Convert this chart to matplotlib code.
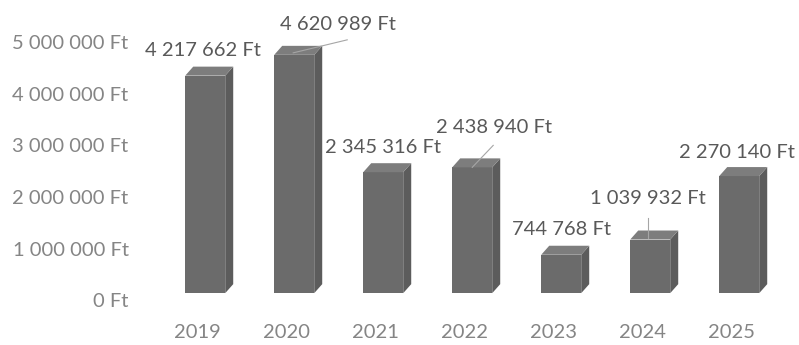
import matplotlib.pyplot as plt
from matplotlib.patches import Polygon

years = ['2019', '2020', '2021', '2022', '2023', '2024', '2025']
values = [4217662, 4620989, 2345316, 2438940, 744768, 1039932, 2270140]
ytick_values = [0, 1000000, 2000000, 3000000, 4000000, 5000000]

# label offsets (pixels) from the front top of each bar
label_offsets = [(-2, 25), (44, 30), (0, 25), (22, 40), (0, 25), (-2, 41), (-2, 24)]
# leader lines: (start, end) offsets in pixels from the bar top, None = no leader
leaders = [None, ((53, 15), (-1, 2)), None, ((21, 22), (0, 0)), None, ((-2, 22), (-2, 2)), None]


def fmt(v):
    return '{:,}'.format(v).replace(',', ' ') + ' Ft'


plt.rcParams['font.family'] = ['Lato', 'DejaVu Sans']

DPI = 100
fig = plt.figure(figsize=(7.99, 3.45), dpi=DPI)
ax = fig.add_axes([0.18, 0.13, 0.802, 0.867])
ax.set_xlim(-0.6, 6.6)
ax.set_ylim(0, 5800000)

for s in ax.spines.values():
    s.set_visible(False)
ax.set_xticks(range(len(years)))
ax.set_xticklabels(years)
ax.set_yticks(ytick_values)
ax.set_yticklabels([fmt(v) for v in ytick_values])
ax.tick_params(length=0, labelsize=14.5, colors='#858585')
ax.tick_params(axis='x', pad=17)
ax.tick_params(axis='y', pad=11)

# pixel -> data conversions
px_x = (6.6 + 0.6) / (0.802 * 7.99 * DPI)
px_y = 5800000 / (0.867 * 3.45 * DPI)

shift_x, lift = 8 * px_x, 7 * px_y     # front face shift from tick / floor
dx, dy = 8 * px_x, 9 * px_y            # depth of the box
half = 20 * px_x

for i, v in enumerate(values):
    cx = i + shift_x
    xl, xr = cx - half, cx + half
    y0, y1 = lift, v + lift
    front = Polygon([(xl, y0), (xr, y0), (xr, y1), (xl, y1)],
                    facecolor='#6b6b6b', edgecolor='none', zorder=3)
    top = Polygon([(xl, y1), (xr, y1), (xr + dx, y1 + dy), (xl + dx, y1 + dy)],
                  facecolor='#7d7d7d', edgecolor='none', zorder=3)
    side = Polygon([(xr, y0), (xr + dx, y0 + dy), (xr + dx, y1 + dy), (xr, y1)],
                   facecolor='#5c5c5c', edgecolor='none', zorder=3)
    for p in (front, side, top):
        ax.add_patch(p)

    ax.annotate(fmt(v), xy=(cx, y1), xytext=label_offsets[i], textcoords='offset pixels',
                ha='center', va='center', fontsize=14.5, color='#595959', zorder=5)
    if leaders[i]:
        (sx, sy), (ex, ey) = leaders[i]
        ax.plot([cx + sx * px_x, cx + ex * px_x], [y1 + sy * px_y, y1 + ey * px_y],
                color='#a6a6a6', lw=0.8, zorder=6)

fig.savefig('out.png', dpi=DPI, facecolor='white')
